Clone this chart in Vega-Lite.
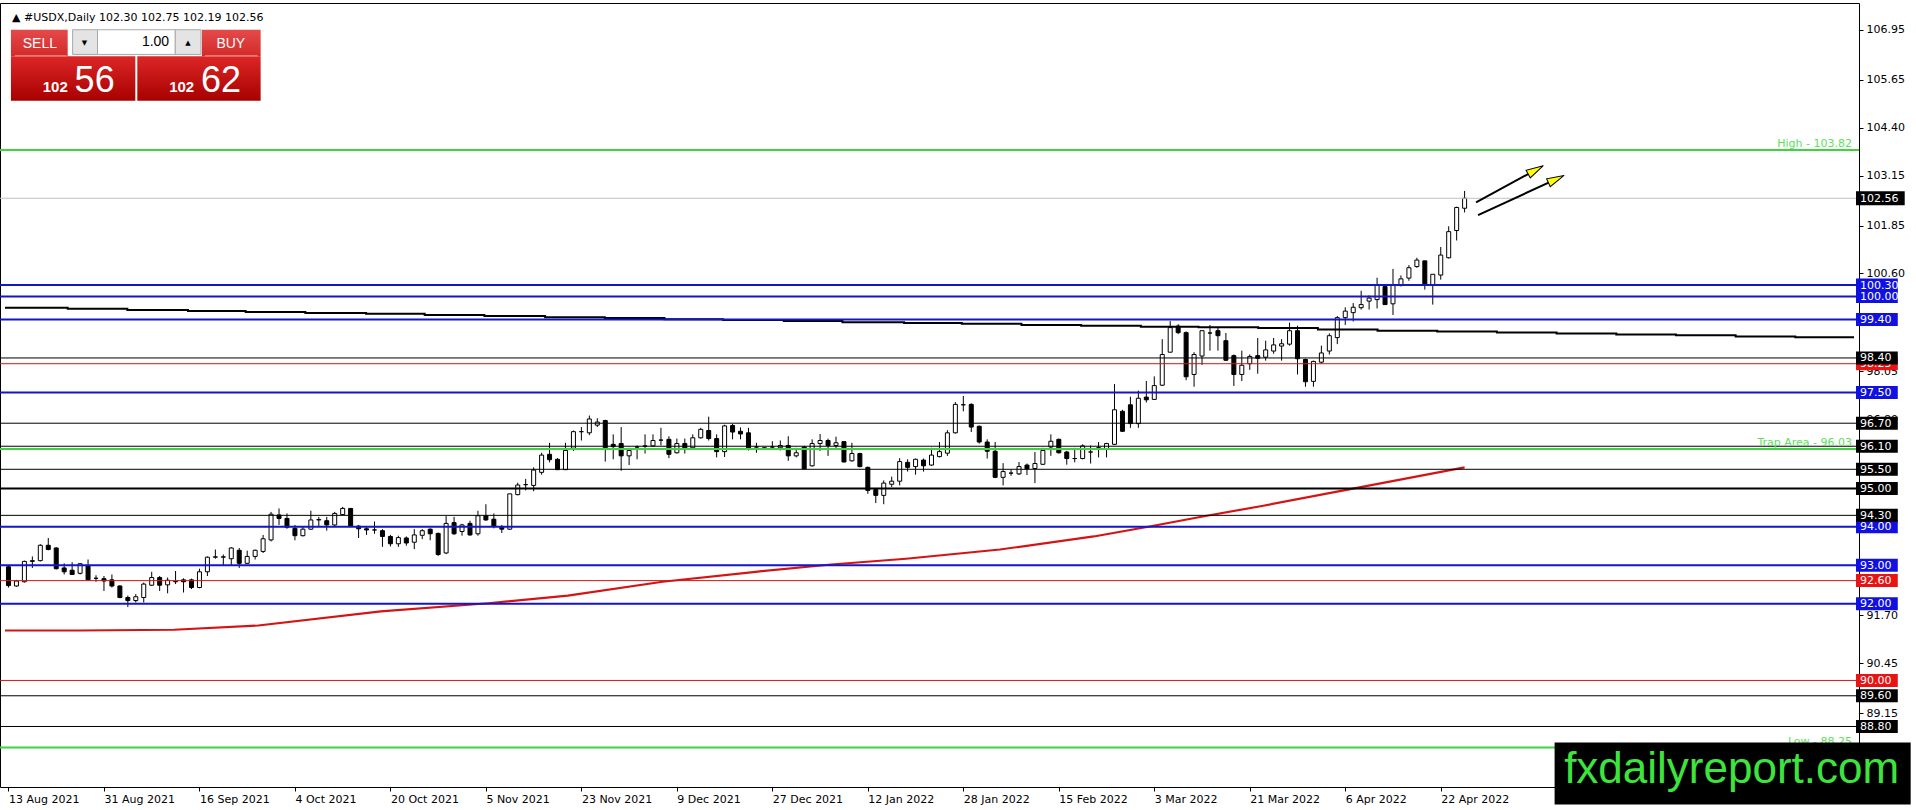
{
"$schema":"https://vega.github.io/schema/vega-lite/v6.json",
"width":1859,"height":784,
"autosize":{"type":"none"},
"padding":{"left":0,"top":3,"right":57,"bottom":23},
"background":"white",
"config":{"view":{"stroke":"black","strokeWidth":1},"axis":{"grid":false}},
"datasets":{
"candles":[
{"i":0,"o":92.96,"h":92.98,"l":92.42,"c":92.47},{"i":1,"o":92.46,"h":92.62,"l":92.44,"c":92.59},{"i":2,"o":92.57,"h":93.12,"l":92.55,"c":93.10},{"i":3,"o":93.10,"h":93.23,"l":92.93,"c":93.12},{"i":4,"o":93.12,"h":93.55,"l":93.10,"c":93.52},{"i":5,"o":93.52,"h":93.71,"l":93.39,"c":93.41},{"i":6,"o":93.45,"h":93.47,"l":92.89,"c":92.91},{"i":7,"o":92.93,"h":93.05,"l":92.76,"c":92.83},{"i":8,"o":92.87,"h":93.08,"l":92.76,"c":92.76},{"i":9,"o":92.79,"h":93.05,"l":92.76,"c":93.04},
{"i":10,"o":92.98,"h":93.15,"l":92.59,"c":92.62},{"i":11,"o":92.66,"h":92.74,"l":92.57,"c":92.66},{"i":12,"o":92.65,"h":92.72,"l":92.33,"c":92.59},{"i":13,"o":92.62,"h":92.76,"l":92.42,"c":92.46},{"i":14,"o":92.46,"h":92.48,"l":92.14,"c":92.16},{"i":15,"o":92.16,"h":92.21,"l":91.91,"c":92.08},{"i":16,"o":92.08,"h":92.25,"l":92.03,"c":92.18},{"i":17,"o":92.16,"h":92.55,"l":92.03,"c":92.51},{"i":18,"o":92.48,"h":92.83,"l":92.46,"c":92.68},{"i":19,"o":92.68,"h":92.72,"l":92.33,"c":92.48},
{"i":20,"o":92.49,"h":92.68,"l":92.27,"c":92.61},{"i":21,"o":92.57,"h":92.85,"l":92.51,"c":92.58},{"i":22,"o":92.62,"h":92.66,"l":92.29,"c":92.57},{"i":23,"o":92.62,"h":92.65,"l":92.38,"c":92.42},{"i":24,"o":92.42,"h":92.91,"l":92.40,"c":92.83},{"i":25,"o":92.83,"h":93.23,"l":92.72,"c":93.21},{"i":26,"o":93.21,"h":93.41,"l":93.17,"c":93.22},{"i":27,"o":93.21,"h":93.28,"l":92.99,"c":93.22},{"i":28,"o":93.17,"h":93.47,"l":92.98,"c":93.45},{"i":29,"o":93.39,"h":93.45,"l":92.93,"c":93.05},
{"i":30,"o":93.05,"h":93.38,"l":93.04,"c":93.23},{"i":31,"o":93.23,"h":93.41,"l":93.15,"c":93.39},{"i":32,"o":93.36,"h":93.79,"l":93.32,"c":93.69},{"i":33,"o":93.66,"h":94.39,"l":93.62,"c":94.33},{"i":34,"o":94.31,"h":94.48,"l":94.05,"c":94.22},{"i":35,"o":94.22,"h":94.35,"l":93.95,"c":93.99},{"i":36,"o":93.96,"h":94.05,"l":93.65,"c":93.77},{"i":37,"o":93.77,"h":94.00,"l":93.75,"c":93.94},{"i":38,"o":93.94,"h":94.42,"l":93.92,"c":94.18},{"i":39,"o":94.18,"h":94.26,"l":94.01,"c":94.19},
{"i":40,"o":94.16,"h":94.26,"l":93.90,"c":94.05},{"i":41,"o":94.05,"h":94.39,"l":94.02,"c":94.35},{"i":42,"o":94.32,"h":94.52,"l":94.31,"c":94.48},{"i":43,"o":94.48,"h":94.49,"l":94.01,"c":94.02},{"i":44,"o":94.02,"h":94.05,"l":93.71,"c":93.95},{"i":45,"o":93.95,"h":94.02,"l":93.79,"c":93.92},{"i":46,"o":93.92,"h":94.14,"l":93.82,"c":93.92},{"i":47,"o":93.90,"h":93.94,"l":93.48,"c":93.75},{"i":48,"o":93.75,"h":93.79,"l":93.49,"c":93.56},{"i":49,"o":93.56,"h":93.77,"l":93.48,"c":93.72},
{"i":50,"o":93.71,"h":93.75,"l":93.51,"c":93.58},{"i":51,"o":93.60,"h":93.94,"l":93.42,"c":93.79},{"i":52,"o":93.78,"h":93.94,"l":93.68,"c":93.90},{"i":53,"o":93.94,"h":93.96,"l":93.65,"c":93.82},{"i":54,"o":93.83,"h":93.85,"l":93.24,"c":93.28},{"i":55,"o":93.32,"h":94.28,"l":93.29,"c":94.09},{"i":56,"o":94.11,"h":94.26,"l":93.79,"c":93.82},{"i":57,"o":93.88,"h":94.08,"l":93.77,"c":94.05},{"i":58,"o":94.09,"h":94.16,"l":93.77,"c":93.79},{"i":59,"o":93.82,"h":94.42,"l":93.77,"c":94.29},
{"i":60,"o":94.29,"h":94.59,"l":94.16,"c":94.18},{"i":61,"o":94.20,"h":94.35,"l":93.96,"c":94.01},{"i":62,"o":93.99,"h":94.05,"l":93.84,"c":93.94},{"i":63,"o":93.94,"h":94.86,"l":93.92,"c":94.86},{"i":64,"o":94.84,"h":95.15,"l":94.82,"c":95.09},{"i":65,"o":95.10,"h":95.25,"l":94.95,"c":95.10},{"i":66,"o":95.08,"h":95.55,"l":94.93,"c":95.48},{"i":67,"o":95.42,"h":95.93,"l":95.36,"c":95.87},{"i":68,"o":95.89,"h":96.19,"l":95.68,"c":95.75},{"i":69,"o":95.76,"h":95.79,"l":95.48,"c":95.49},
{"i":70,"o":95.49,"h":96.19,"l":95.48,"c":95.99},{"i":71,"o":96.05,"h":96.51,"l":95.98,"c":96.48},{"i":72,"o":96.48,"h":96.60,"l":96.25,"c":96.48},{"i":73,"o":96.45,"h":96.90,"l":96.39,"c":96.81},{"i":74,"o":96.65,"h":96.83,"l":96.60,"c":96.73},{"i":75,"o":96.77,"h":96.79,"l":95.70,"c":96.06},{"i":76,"o":96.15,"h":96.41,"l":95.76,"c":96.09},{"i":77,"o":96.17,"h":96.60,"l":95.46,"c":95.85},{"i":78,"o":95.85,"h":96.06,"l":95.61,"c":95.99},{"i":79,"o":96.08,"h":96.12,"l":95.76,"c":96.08},
{"i":80,"o":96.10,"h":96.41,"l":95.91,"c":96.11},{"i":81,"o":96.11,"h":96.41,"l":96.08,"c":96.25},{"i":82,"o":96.26,"h":96.58,"l":96.12,"c":96.26},{"i":83,"o":96.28,"h":96.36,"l":95.79,"c":95.89},{"i":84,"o":95.93,"h":96.30,"l":95.91,"c":96.17},{"i":85,"o":96.17,"h":96.30,"l":95.91,"c":96.05},{"i":86,"o":96.06,"h":96.41,"l":96.02,"c":96.32},{"i":87,"o":96.32,"h":96.58,"l":96.30,"c":96.54},{"i":88,"o":96.51,"h":96.87,"l":96.25,"c":96.30},{"i":89,"o":96.30,"h":96.41,"l":95.81,"c":95.96},
{"i":90,"o":95.96,"h":96.66,"l":95.82,"c":96.63},{"i":91,"o":96.64,"h":96.68,"l":96.28,"c":96.47},{"i":92,"o":96.49,"h":96.59,"l":96.28,"c":96.42},{"i":93,"o":96.45,"h":96.58,"l":95.99,"c":96.06},{"i":94,"o":96.08,"h":96.19,"l":95.93,"c":96.08},{"i":95,"o":96.05,"h":96.08,"l":96.03,"c":96.06},{"i":96,"o":96.08,"h":96.23,"l":96.02,"c":96.08},{"i":97,"o":96.06,"h":96.25,"l":95.99,"c":96.12},{"i":98,"o":96.12,"h":96.36,"l":95.72,"c":95.85},{"i":99,"o":95.85,"h":96.06,"l":95.81,"c":95.93},
{"i":100,"o":96.08,"h":96.11,"l":95.49,"c":95.51},{"i":101,"o":95.59,"h":96.28,"l":95.57,"c":96.17},{"i":102,"o":96.17,"h":96.42,"l":95.98,"c":96.25},{"i":103,"o":96.25,"h":96.30,"l":95.85,"c":96.12},{"i":104,"o":96.12,"h":96.35,"l":96.02,"c":96.19},{"i":105,"o":96.22,"h":96.23,"l":95.68,"c":95.69},{"i":106,"o":95.72,"h":96.19,"l":95.70,"c":95.91},{"i":107,"o":95.91,"h":95.93,"l":95.55,"c":95.57},{"i":108,"o":95.55,"h":95.57,"l":94.86,"c":94.95},{"i":109,"o":94.97,"h":95.00,"l":94.62,"c":94.82},
{"i":110,"o":94.82,"h":95.21,"l":94.59,"c":95.14},{"i":111,"o":95.11,"h":95.31,"l":95.04,"c":95.19},{"i":112,"o":95.19,"h":95.79,"l":95.08,"c":95.70},{"i":113,"o":95.68,"h":95.76,"l":95.44,"c":95.55},{"i":114,"o":95.57,"h":95.78,"l":95.36,"c":95.76},{"i":115,"o":95.74,"h":95.78,"l":95.44,"c":95.59},{"i":116,"o":95.61,"h":96.06,"l":95.59,"c":95.87},{"i":117,"o":95.83,"h":96.21,"l":95.81,"c":95.96},{"i":118,"o":95.92,"h":96.52,"l":95.85,"c":96.45},{"i":119,"o":96.45,"h":97.25,"l":96.43,"c":97.19},
{"i":120,"o":97.18,"h":97.41,"l":97.01,"c":97.18},{"i":121,"o":97.19,"h":97.22,"l":96.47,"c":96.60},{"i":122,"o":96.62,"h":96.64,"l":96.17,"c":96.21},{"i":123,"o":96.21,"h":96.28,"l":95.78,"c":95.97},{"i":124,"o":95.97,"h":96.21,"l":95.27,"c":95.29},{"i":125,"o":95.29,"h":95.66,"l":95.08,"c":95.44},{"i":126,"o":95.40,"h":95.49,"l":95.33,"c":95.40},{"i":127,"o":95.38,"h":95.69,"l":95.35,"c":95.57},{"i":128,"o":95.61,"h":95.65,"l":95.35,"c":95.51},{"i":129,"o":95.52,"h":95.95,"l":95.14,"c":95.65},
{"i":130,"o":95.63,"h":96.06,"l":95.61,"c":95.99},{"i":131,"o":96.08,"h":96.41,"l":95.85,"c":96.23},{"i":132,"o":96.28,"h":96.30,"l":95.91,"c":95.93},{"i":133,"o":95.95,"h":95.98,"l":95.62,"c":95.78},{"i":134,"o":95.78,"h":96.06,"l":95.68,"c":95.78},{"i":135,"o":95.78,"h":96.15,"l":95.76,"c":96.11},{"i":136,"o":95.95,"h":96.12,"l":95.65,"c":95.95},{"i":137,"o":96.06,"h":96.21,"l":95.81,"c":96.06},{"i":138,"o":96.04,"h":96.19,"l":95.81,"c":96.17},{"i":139,"o":96.15,"h":97.72,"l":96.13,"c":97.05},
{"i":140,"o":97.01,"h":97.05,"l":96.47,"c":96.49},{"i":141,"o":97.18,"h":97.39,"l":96.58,"c":96.69},{"i":142,"o":96.69,"h":97.55,"l":96.58,"c":97.35},{"i":143,"o":97.38,"h":97.80,"l":97.24,"c":97.31},{"i":144,"o":97.32,"h":97.92,"l":97.31,"c":97.68},{"i":145,"o":97.69,"h":98.89,"l":97.67,"c":98.49},{"i":146,"o":98.55,"h":99.36,"l":98.55,"c":99.19},{"i":147,"o":99.23,"h":99.28,"l":99.02,"c":99.06},{"i":148,"o":99.06,"h":99.09,"l":97.82,"c":97.91},{"i":149,"o":97.97,"h":98.55,"l":97.65,"c":98.49},
{"i":150,"o":98.45,"h":99.12,"l":98.22,"c":99.11},{"i":151,"o":99.05,"h":99.26,"l":98.59,"c":99.05},{"i":152,"o":99.11,"h":99.21,"l":98.59,"c":98.98},{"i":153,"o":98.85,"h":99.05,"l":98.32,"c":98.34},{"i":154,"o":98.46,"h":98.49,"l":97.67,"c":97.97},{"i":155,"o":97.97,"h":98.59,"l":97.80,"c":98.21},{"i":156,"o":98.25,"h":98.49,"l":98.09,"c":98.44},{"i":157,"o":98.46,"h":98.92,"l":97.99,"c":98.39},{"i":158,"o":98.42,"h":98.85,"l":98.33,"c":98.61},{"i":159,"o":98.58,"h":98.92,"l":98.51,"c":98.74},
{"i":160,"o":98.71,"h":98.89,"l":98.33,"c":98.77},{"i":161,"o":98.76,"h":99.32,"l":98.72,"c":99.11},{"i":162,"o":99.11,"h":99.24,"l":97.97,"c":98.38},{"i":163,"o":98.36,"h":98.38,"l":97.65,"c":97.78},{"i":164,"o":97.79,"h":98.33,"l":97.65,"c":98.31},{"i":165,"o":98.29,"h":98.72,"l":98.25,"c":98.53},{"i":166,"o":98.58,"h":99.04,"l":98.49,"c":98.98},{"i":167,"o":98.93,"h":99.49,"l":98.76,"c":99.45},{"i":168,"o":99.45,"h":99.72,"l":99.26,"c":99.62},{"i":169,"o":99.58,"h":99.83,"l":99.35,"c":99.72},
{"i":170,"o":99.71,"h":100.15,"l":99.66,"c":99.79},{"i":171,"o":99.88,"h":100.03,"l":99.66,"c":99.96},{"i":172,"o":99.92,"h":100.49,"l":99.69,"c":100.29},{"i":173,"o":100.26,"h":100.29,"l":99.78,"c":99.79},{"i":174,"o":99.81,"h":100.72,"l":99.52,"c":100.29},{"i":175,"o":100.31,"h":100.55,"l":100.26,"c":100.46},{"i":176,"o":100.48,"h":100.82,"l":100.41,"c":100.75},{"i":177,"o":100.78,"h":101.01,"l":100.75,"c":100.95},{"i":178,"o":100.93,"h":100.93,"l":100.18,"c":100.31},{"i":179,"o":100.29,"h":100.58,"l":99.79,"c":100.58},
{"i":180,"o":100.56,"h":101.29,"l":100.44,"c":101.08},{"i":181,"o":101.01,"h":101.83,"l":100.99,"c":101.69},{"i":182,"o":101.72,"h":102.34,"l":101.46,"c":102.32},{"i":183,"o":102.30,"h":102.75,"l":102.19,"c":102.56}
],
"maRed":[
{"i":-0.44,"v":91.30},{"i":8.9,"v":91.30},{"i":20.8,"v":91.32},{"i":31.4,"v":91.43},{"i":46.8,"v":91.80},{"i":60.3,"v":92.01},{"i":70.3,"v":92.21},{"i":82.2,"v":92.57},{"i":93.9,"v":92.83},{"i":103.4,"v":93.02},{"i":112.8,"v":93.17},{"i":124.6,"v":93.41},{"i":136.4,"v":93.75},{"i":142.9,"v":93.99},{"i":150.6,"v":94.29},{"i":157.7,"v":94.55},{"i":168.3,"v":94.97},{"i":183,"v":95.55}
],
"maBlack":[
{"i":-0.44,"v":99.71},{"i":7.44,"v":99.68},{"i":14.94,"v":99.65},{"i":22.56,"v":99.62},{"i":29.81,"v":99.60},{"i":37.31,"v":99.57},{"i":44.94,"v":99.55},{"i":52.31,"v":99.52},{"i":59.81,"v":99.49},{"i":67.44,"v":99.46},{"i":74.94,"v":99.44},{"i":82.44,"v":99.41},{"i":89.81,"v":99.39},{"i":97.44,"v":99.36},{"i":104.81,"v":99.33},{"i":112.56,"v":99.31},{"i":119.81,"v":99.29},{"i":127.31,"v":99.26},{"i":134.81,"v":99.24},{"i":142.31,"v":99.21},{"i":149.56,"v":99.20},{"i":157.06,"v":99.18},{"i":164.56,"v":99.14},{"i":172.06,"v":99.11},{"i":179.56,"v":99.09},{"i":187.06,"v":99.06},{"i":194.56,"v":99.04},{"i":202.06,"v":99.01},{"i":209.56,"v":98.99},{"i":217.06,"v":98.96},{"i":224.56,"v":98.94},{"i":231.94,"v":98.94}
],
"blueLevels":[{"p":100.30},{"p":100.00},{"p":99.40},{"p":97.50},{"p":94.00},{"p":93.00},{"p":92.00}],
"blackLevels":[{"p":98.40},{"p":96.70},{"p":96.10},{"p":95.50},{"p":95.00},{"p":94.30},{"p":89.60},{"p":88.80}],
"heavyLevels":[{"p":95.00}],
"redLevels":[{"p":98.25},{"p":92.60},{"p":90.00}],
"greenLevels":[{"p":103.82,"t":"High - 103.82"},{"p":96.03,"t":"Trap Area - 96.03"},{"p":88.25,"t":"Low - 88.25"}],
"lastPrice":[{"p":102.56}],
"arrows":[{"n":1,"x1":184.44,"p1":102.45,"x2":191.94,"p2":103.30},{"n":2,"x1":184.69,"p1":102.12,"x2":194.52,"p2":103.06}],
"watermark":[{"x1":194.31,"x2":239.06,"p1":88.383,"p2":86.77,"xc":216.56,"pb":87.33,"t":"fxdailyreport.com"}],
"panelRects":[
{"part":"block","x1":0.31,"x2":15.94,"p1":106.256,"p2":105.098},
{"part":"block","x1":16.19,"x2":31.69,"p1":106.256,"p2":105.098},
{"part":"head","x1":0.31,"x2":7.44,"p1":106.95,"p2":106.256},
{"part":"head","x1":24.31,"x2":31.69,"p1":106.95,"p2":106.256},
{"part":"btn","x1":8.06,"x2":11.19,"p1":106.95,"p2":106.307},
{"part":"btn","x1":20.94,"x2":24.19,"p1":106.95,"p2":106.307},
{"part":"field","x1":11.19,"x2":20.94,"p1":106.95,"p2":106.307},
{"part":"sep","x1":0.81,"x2":7.31,"p1":106.27,"p2":106.27},
{"part":"sep","x1":24.69,"x2":31.31,"p1":106.27,"p2":106.27}
],
"panelText":[
{"part":"title","t":"▲ #USDX,Daily  102.30 102.75 102.19 102.56","x":0.44,"p":107.259},
{"part":"label","t":"SELL","x":3.94,"p":106.59},
{"part":"label","t":"BUY","x":27.94,"p":106.59},
{"part":"lot","t":"1.00","x":20.19,"p":106.641},
{"part":"arrow","t":"▼","x":9.56,"p":106.616},
{"part":"arrow","t":"▲","x":22.56,"p":106.616},
{"part":"small","t":"102","x":4.31,"p":105.33},
{"part":"small","t":"102","x":20.19,"p":105.33},
{"part":"big","t":"56","x":8.31,"p":105.33},
{"part":"big","t":"62","x":24.19,"p":105.33}
]
},
"layer":[
{"data":{"name":"candles"},"mark":{"type":"rule","color":"black","strokeWidth":1},
 "encoding":{
  "x":{"field":"i","type":"quantitative","scale":{"domain":[-0.4375,231.9375],"nice":false,"zero":false},
   "axis":{"orient":"bottom","values":[0,12,24,36,48,60,72,84,96,108,120,132,144,156,168,180],
    "labelExpr":"['13 Aug 2021','31 Aug 2021','16 Sep 2021','4 Oct 2021','20 Oct 2021','5 Nov 2021','23 Nov 2021','9 Dec 2021','27 Dec 2021','12 Jan 2022','28 Jan 2022','15 Feb 2022','3 Mar 2022','21 Mar 2022','6 Apr 2022','22 Apr 2022'][datum.value/12]",
    "title":null,"domain":false,"grid":false,"tickSize":4,"tickColor":"black","labelAlign":"left","labelBaseline":"top","labelPadding":2,"labelFont":"DejaVu Sans","labelFontSize":11,"labelColor":"black","labelOverlap":false,"labelBound":false,"labelFlush":false}},
  "y":{"field":"l","type":"quantitative","scale":{"domain":[87.354,107.516],"nice":false,"zero":false},
   "axis":{"orient":"right","values":[106.95,105.65,104.40,103.15,101.85,100.60,98.05,96.80,91.70,90.45,89.15],"format":".2f",
    "title":null,"domain":false,"grid":false,"tickSize":4,"tickColor":"black","labelPadding":3,"labelFont":"DejaVu Sans","labelFontSize":11,"labelColor":"black","labelOverlap":false,"labelBound":false,"labelFlush":false}},
  "y2":{"field":"h"}}},
{"data":{"name":"candles"},"mark":{"type":"bar","size":4,"stroke":"black","strokeWidth":1},
 "encoding":{
  "x":{"field":"i","type":"quantitative","scale":{"domain":[-0.4375,231.9375],"nice":false,"zero":false}},
  "y":{"field":"o","type":"quantitative","scale":{"domain":[87.354,107.516],"nice":false,"zero":false}},
  "y2":{"field":"c"},
  "fill":{"condition":{"test":"datum.c >= datum.o","value":"white"},"value":"black"}}},
{"data":{"name":"maRed"},"mark":{"type":"line","color":"#d41414","strokeWidth":2.2},
 "encoding":{
  "x":{"field":"i","type":"quantitative","scale":{"domain":[-0.4375,231.9375],"nice":false,"zero":false}},
  "y":{"field":"v","type":"quantitative","scale":{"domain":[87.354,107.516],"nice":false,"zero":false}}}},
{"data":{"name":"maBlack"},"mark":{"type":"line","color":"black","strokeWidth":2,"interpolate":"step-after"},
 "encoding":{
  "x":{"field":"i","type":"quantitative","scale":{"domain":[-0.4375,231.9375],"nice":false,"zero":false}},
  "y":{"field":"v","type":"quantitative","scale":{"domain":[87.354,107.516],"nice":false,"zero":false}}}},
{"data":{"name":"blackLevels"},"mark":{"type":"rule","color":"black","strokeWidth":1},
 "encoding":{"y":{"field":"p","type":"quantitative","scale":{"domain":[87.354,107.516],"nice":false,"zero":false}}}},
{"data":{"name":"heavyLevels"},"mark":{"type":"rule","color":"black","strokeWidth":2},
 "encoding":{"y":{"field":"p","type":"quantitative","scale":{"domain":[87.354,107.516],"nice":false,"zero":false}}}},
{"data":{"name":"redLevels"},"mark":{"type":"rule","color":"#d41414","strokeWidth":1},
 "encoding":{"y":{"field":"p","type":"quantitative","scale":{"domain":[87.354,107.516],"nice":false,"zero":false}}}},
{"data":{"name":"blueLevels"},"mark":{"type":"rule","color":"#1414c8","strokeWidth":2},
 "encoding":{"y":{"field":"p","type":"quantitative","scale":{"domain":[87.354,107.516],"nice":false,"zero":false}}}},
{"data":{"name":"greenLevels"},"mark":{"type":"rule","color":"#3ed43e","strokeWidth":2},
 "encoding":{"y":{"field":"p","type":"quantitative","scale":{"domain":[87.354,107.516],"nice":false,"zero":false}}}},
{"data":{"name":"lastPrice"},"mark":{"type":"rule","color":"#c0c0c0","strokeWidth":1},
 "encoding":{"y":{"field":"p","type":"quantitative","scale":{"domain":[87.354,107.516],"nice":false,"zero":false}}}},
{"data":{"name":"greenLevels"},"mark":{"type":"text","align":"right","baseline":"bottom","dy":-1,"color":"#5ee05e","font":"DejaVu Sans","fontSize":11},
 "encoding":{
  "x":{"datum":231.69,"type":"quantitative","scale":{"domain":[-0.4375,231.9375],"nice":false,"zero":false}},
  "y":{"field":"p","type":"quantitative","scale":{"domain":[87.354,107.516],"nice":false,"zero":false}},
  "text":{"field":"t"}}},
{"data":{"name":"arrows"},"mark":{"type":"rule","color":"black","strokeWidth":2,"clip":false},
 "encoding":{
  "x":{"field":"x1","type":"quantitative","scale":{"domain":[-0.4375,231.9375],"nice":false,"zero":false}},
  "x2":{"field":"x2"},
  "y":{"field":"p1","type":"quantitative","scale":{"domain":[87.354,107.516],"nice":false,"zero":false}},
  "y2":{"field":"p2"}}},
{"data":{"name":"arrows"},"transform":[{"filter":"datum.n == 1"}],
 "mark":{"type":"point","shape":"M1,0L-1,-0.5L-1,0.5Z","size":300,"filled":true,"fill":"#ffff00","stroke":"black","strokeWidth":1,"opacity":1,"angle":331,"clip":false},
 "encoding":{
  "x":{"field":"x2","type":"quantitative","scale":{"domain":[-0.4375,231.9375],"nice":false,"zero":false}},
  "y":{"field":"p2","type":"quantitative","scale":{"domain":[87.354,107.516],"nice":false,"zero":false}}}},
{"data":{"name":"arrows"},"transform":[{"filter":"datum.n == 2"}],
 "mark":{"type":"point","shape":"M1,0L-1,-0.5L-1,0.5Z","size":300,"filled":true,"fill":"#ffff00","stroke":"black","strokeWidth":1,"opacity":1,"angle":335,"clip":false},
 "encoding":{
  "x":{"field":"x2","type":"quantitative","scale":{"domain":[-0.4375,231.9375],"nice":false,"zero":false}},
  "y":{"field":"p2","type":"quantitative","scale":{"domain":[87.354,107.516],"nice":false,"zero":false}}}},
{"data":{"name":"redLevels"},"mark":{"type":"bar","size":13,"color":"#e81414","clip":false},
 "encoding":{
  "x":{"datum":232.19,"type":"quantitative","scale":{"domain":[-0.4375,231.9375],"nice":false,"zero":false}},
  "x2":{"datum":237.44},
  "y":{"field":"p","type":"quantitative","scale":{"domain":[87.354,107.516],"nice":false,"zero":false}}}},
{"data":{"name":"redLevels"},"mark":{"type":"text","align":"left","baseline":"middle","dy":0.5,"color":"white","font":"DejaVu Sans","fontSize":11,"clip":false},
 "encoding":{
  "x":{"datum":232.69,"type":"quantitative","scale":{"domain":[-0.4375,231.9375],"nice":false,"zero":false}},
  "y":{"field":"p","type":"quantitative","scale":{"domain":[87.354,107.516],"nice":false,"zero":false}},
  "text":{"field":"p","type":"quantitative","format":".2f"}}},
{"data":{"name":"blueLevels"},"mark":{"type":"bar","size":13,"color":"#1010e0","clip":false},
 "encoding":{
  "x":{"datum":232.19,"type":"quantitative","scale":{"domain":[-0.4375,231.9375],"nice":false,"zero":false}},
  "x2":{"datum":237.44},
  "y":{"field":"p","type":"quantitative","scale":{"domain":[87.354,107.516],"nice":false,"zero":false}}}},
{"data":{"name":"blueLevels"},"mark":{"type":"text","align":"left","baseline":"middle","dy":0.5,"color":"white","font":"DejaVu Sans","fontSize":11,"clip":false},
 "encoding":{
  "x":{"datum":232.69,"type":"quantitative","scale":{"domain":[-0.4375,231.9375],"nice":false,"zero":false}},
  "y":{"field":"p","type":"quantitative","scale":{"domain":[87.354,107.516],"nice":false,"zero":false}},
  "text":{"field":"p","type":"quantitative","format":".2f"}}},
{"data":{"name":"blackLevels"},"mark":{"type":"bar","size":13,"color":"black","clip":false},
 "encoding":{
  "x":{"datum":232.19,"type":"quantitative","scale":{"domain":[-0.4375,231.9375],"nice":false,"zero":false}},
  "x2":{"datum":237.44},
  "y":{"field":"p","type":"quantitative","scale":{"domain":[87.354,107.516],"nice":false,"zero":false}}}},
{"data":{"name":"blackLevels"},"mark":{"type":"text","align":"left","baseline":"middle","dy":0.5,"color":"white","font":"DejaVu Sans","fontSize":11,"clip":false},
 "encoding":{
  "x":{"datum":232.69,"type":"quantitative","scale":{"domain":[-0.4375,231.9375],"nice":false,"zero":false}},
  "y":{"field":"p","type":"quantitative","scale":{"domain":[87.354,107.516],"nice":false,"zero":false}},
  "text":{"field":"p","type":"quantitative","format":".2f"}}},
{"data":{"name":"lastPrice"},"mark":{"type":"bar","size":14,"color":"black","clip":false},
 "encoding":{
  "x":{"datum":232.19,"type":"quantitative","scale":{"domain":[-0.4375,231.9375],"nice":false,"zero":false}},
  "x2":{"datum":238.31},
  "y":{"field":"p","type":"quantitative","scale":{"domain":[87.354,107.516],"nice":false,"zero":false}}}},
{"data":{"name":"lastPrice"},"mark":{"type":"text","align":"left","baseline":"middle","dy":0.5,"color":"white","font":"DejaVu Sans","fontSize":11,"clip":false},
 "encoding":{
  "x":{"datum":232.69,"type":"quantitative","scale":{"domain":[-0.4375,231.9375],"nice":false,"zero":false}},
  "y":{"field":"p","type":"quantitative","scale":{"domain":[87.354,107.516],"nice":false,"zero":false}},
  "text":{"field":"p","type":"quantitative","format":".2f"}}},
{"data":{"name":"watermark"},"mark":{"type":"rect","color":"black","clip":false},
 "encoding":{
  "x":{"field":"x1","type":"quantitative","scale":{"domain":[-0.4375,231.9375],"nice":false,"zero":false}},
  "x2":{"field":"x2"},
  "y":{"field":"p1","type":"quantitative","scale":{"domain":[87.354,107.516],"nice":false,"zero":false}},
  "y2":{"field":"p2"}}},
{"data":{"name":"watermark"},"mark":{"type":"text","align":"center","baseline":"alphabetic","color":"#3ee43e","font":"Liberation Sans","fontSize":44,"clip":false},
 "encoding":{
  "x":{"field":"xc","type":"quantitative","scale":{"domain":[-0.4375,231.9375],"nice":false,"zero":false}},
  "y":{"field":"pb","type":"quantitative","scale":{"domain":[87.354,107.516],"nice":false,"zero":false}},
  "text":{"field":"t"}}},
{"data":{"name":"panelRects"},"transform":[{"filter":"datum.part == 'block'"}],
 "mark":{"type":"rect","fill":{"gradient":"linear","x1":0,"y1":0,"x2":0,"y2":1,"stops":[{"offset":0,"color":"#dc2626"},{"offset":1,"color":"#a80000"}]}},
 "encoding":{
  "x":{"field":"x1","type":"quantitative","scale":{"domain":[-0.4375,231.9375],"nice":false,"zero":false}},
  "x2":{"field":"x2"},
  "y":{"field":"p1","type":"quantitative","scale":{"domain":[87.354,107.516],"nice":false,"zero":false}},
  "y2":{"field":"p2"}}},
{"data":{"name":"panelRects"},"transform":[{"filter":"datum.part == 'head'"}],
 "mark":{"type":"rect","fill":{"gradient":"linear","x1":0,"y1":0,"x2":0,"y2":1,"stops":[{"offset":0,"color":"#e44a4a"},{"offset":1,"color":"#d42a2a"}]}},
 "encoding":{
  "x":{"field":"x1","type":"quantitative","scale":{"domain":[-0.4375,231.9375],"nice":false,"zero":false}},
  "x2":{"field":"x2"},
  "y":{"field":"p1","type":"quantitative","scale":{"domain":[87.354,107.516],"nice":false,"zero":false}},
  "y2":{"field":"p2"}}},
{"data":{"name":"panelRects"},"transform":[{"filter":"datum.part == 'btn'"}],
 "mark":{"type":"rect","fill":"#e4e4e4","stroke":"#a8a8a8","strokeWidth":1},
 "encoding":{
  "x":{"field":"x1","type":"quantitative","scale":{"domain":[-0.4375,231.9375],"nice":false,"zero":false}},
  "x2":{"field":"x2"},
  "y":{"field":"p1","type":"quantitative","scale":{"domain":[87.354,107.516],"nice":false,"zero":false}},
  "y2":{"field":"p2"}}},
{"data":{"name":"panelRects"},"transform":[{"filter":"datum.part == 'field'"}],
 "mark":{"type":"rect","fill":"white","stroke":"#a8a8a8","strokeWidth":1},
 "encoding":{
  "x":{"field":"x1","type":"quantitative","scale":{"domain":[-0.4375,231.9375],"nice":false,"zero":false}},
  "x2":{"field":"x2"},
  "y":{"field":"p1","type":"quantitative","scale":{"domain":[87.354,107.516],"nice":false,"zero":false}},
  "y2":{"field":"p2"}}},
{"data":{"name":"panelRects"},"transform":[{"filter":"datum.part == 'sep'"}],
 "mark":{"type":"rule","color":"#f0a0a0","strokeWidth":1},
 "encoding":{
  "x":{"field":"x1","type":"quantitative","scale":{"domain":[-0.4375,231.9375],"nice":false,"zero":false}},
  "x2":{"field":"x2"},
  "y":{"field":"p1","type":"quantitative","scale":{"domain":[87.354,107.516],"nice":false,"zero":false}},
  "y2":{"field":"p2"}}},
{"data":{"name":"panelText"},"transform":[{"filter":"datum.part == 'title'"}],
 "mark":{"type":"text","align":"left","baseline":"middle","color":"black","font":"DejaVu Sans","fontSize":11},
 "encoding":{
  "x":{"field":"x","type":"quantitative","scale":{"domain":[-0.4375,231.9375],"nice":false,"zero":false}},
  "y":{"field":"p","type":"quantitative","scale":{"domain":[87.354,107.516],"nice":false,"zero":false}},
  "text":{"field":"t"}}},
{"data":{"name":"panelText"},"transform":[{"filter":"datum.part == 'label'"}],
 "mark":{"type":"text","align":"center","baseline":"middle","color":"white","font":"Liberation Sans","fontSize":14},
 "encoding":{
  "x":{"field":"x","type":"quantitative","scale":{"domain":[-0.4375,231.9375],"nice":false,"zero":false}},
  "y":{"field":"p","type":"quantitative","scale":{"domain":[87.354,107.516],"nice":false,"zero":false}},
  "text":{"field":"t"}}},
{"data":{"name":"panelText"},"transform":[{"filter":"datum.part == 'lot'"}],
 "mark":{"type":"text","align":"right","baseline":"middle","color":"black","font":"Liberation Sans","fontSize":14},
 "encoding":{
  "x":{"field":"x","type":"quantitative","scale":{"domain":[-0.4375,231.9375],"nice":false,"zero":false}},
  "y":{"field":"p","type":"quantitative","scale":{"domain":[87.354,107.516],"nice":false,"zero":false}},
  "text":{"field":"t"}}},
{"data":{"name":"panelText"},"transform":[{"filter":"datum.part == 'arrow'"}],
 "mark":{"type":"text","align":"center","baseline":"middle","color":"black","font":"DejaVu Sans","fontSize":7},
 "encoding":{
  "x":{"field":"x","type":"quantitative","scale":{"domain":[-0.4375,231.9375],"nice":false,"zero":false}},
  "y":{"field":"p","type":"quantitative","scale":{"domain":[87.354,107.516],"nice":false,"zero":false}},
  "text":{"field":"t"}}},
{"data":{"name":"panelText"},"transform":[{"filter":"datum.part == 'small'"}],
 "mark":{"type":"text","align":"left","baseline":"alphabetic","color":"white","font":"Liberation Sans","fontSize":15,"fontWeight":"bold"},
 "encoding":{
  "x":{"field":"x","type":"quantitative","scale":{"domain":[-0.4375,231.9375],"nice":false,"zero":false}},
  "y":{"field":"p","type":"quantitative","scale":{"domain":[87.354,107.516],"nice":false,"zero":false}},
  "text":{"field":"t"}}},
{"data":{"name":"panelText"},"transform":[{"filter":"datum.part == 'big'"}],
 "mark":{"type":"text","align":"left","baseline":"alphabetic","color":"white","font":"Liberation Sans","fontSize":36},
 "encoding":{
  "x":{"field":"x","type":"quantitative","scale":{"domain":[-0.4375,231.9375],"nice":false,"zero":false}},
  "y":{"field":"p","type":"quantitative","scale":{"domain":[87.354,107.516],"nice":false,"zero":false}},
  "text":{"field":"t"}}}
]
}
